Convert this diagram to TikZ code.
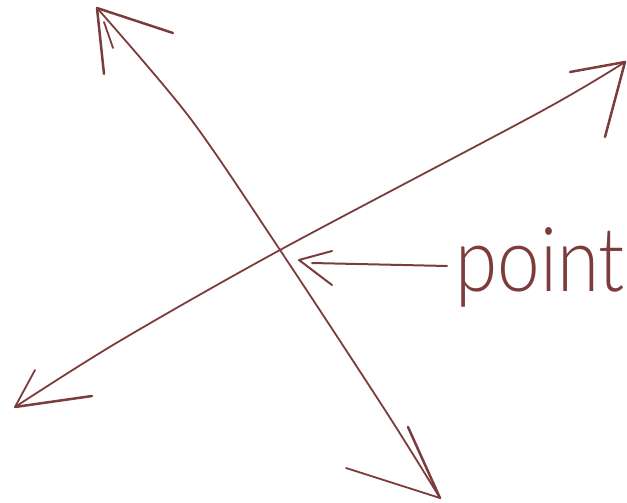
\documentclass[tikz,border=0pt]{standalone}
\usepackage{fontspec}
\newfontfamily\handfont{Lato Light}
\definecolor{ink}{RGB}{125,60,60}
\tikzset{
  stroke/.style={draw=ink, line width=1.8pt, line cap=round, line join=round},
  thick stroke/.style={draw=ink, line width=2.5pt, line cap=round, line join=round},
  lbl/.style={text=ink, font=\handfont\fontsize{78}{84}\selectfont, inner sep=0pt, anchor=base west, xscale=0.98, yscale=1.15}
}
\begin{document}
\begin{tikzpicture}[x=1pt,y=-1pt]
\useasboundingbox (0,0) rectangle (627,503);
% key points
\coordinate (A) at (97,8);
\coordinate (B) at (440,498);
\coordinate (C) at (15,407);
\coordinate (D) at (625,62);
\coordinate (X) at (280,250);
% steep line
\draw[stroke] plot[smooth] coordinates {(A) (190,118) (X) (385,410) (B)};
% shallow line
\draw[stroke] plot[smooth] coordinates {(C) (118,342) (X) (540,112) (D)};
% arrowheads (hand drawn barbs)
\coordinate (A1) at (104,74); \coordinate (A2) at (173,33);
\draw[thick stroke] (A1) -- (A) -- (A2);
\draw[stroke] (113,48) -- (104,22);
\coordinate (B1) at (408,427); \coordinate (B2) at (346,468);
\draw[thick stroke] (B1) -- (B);
\draw[stroke] (B2) -- (B);
\coordinate (C1) at (35,370); \coordinate (C2) at (92,396);
\draw[stroke] (C1) -- (C);
\draw[thick stroke] (C2) -- (C);
\coordinate (D1) at (570,72); \coordinate (D2) at (605,137);
\draw[thick stroke] (D1) -- (D) -- (D2);
% label and pointer
\node[lbl] (L) at (455,291) {point};
\coordinate (P0) at (447,266);
\coordinate (P) at (299,260);
\draw[stroke, line width=2pt] (P0) -- (312,263);
\draw[stroke, line width=2pt] (332,251) -- (P) -- (332,285);
\end{tikzpicture}
\end{document}
